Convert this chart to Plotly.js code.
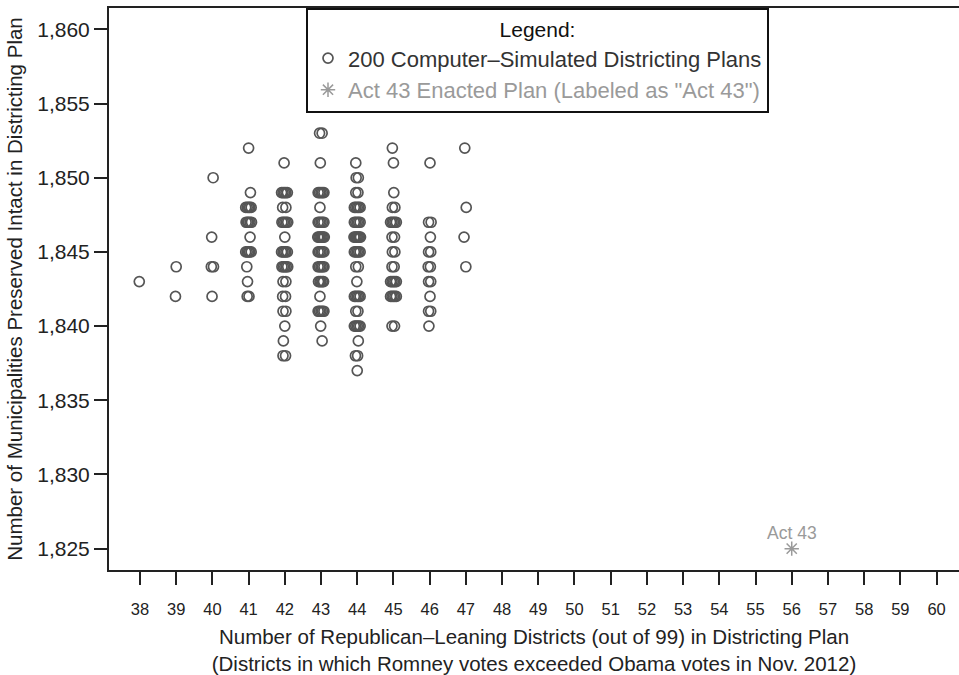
<!DOCTYPE html>
<html>
<head>
<meta charset="utf-8">
<script src="https://cdn.plot.ly/plotly-3.0.1.min.js"></script>
<style>html,body{margin:0;padding:0;background:#fff;overflow:hidden}#chart{width:959px;height:675px}</style>
</head>
<body>
<div id="chart"></div>
<script>
// Tick values
const xTicks = [38,39,40,41,42,43,44,45,46,47,48,49,50,51,52,53,54,55,56,57,58,59,60];
const yTicks = [1825,1830,1835,1840,1845,1850,1855,1860];

// 200 computer-simulated plans, per column (x = Republican-leaning districts, jittered as in the picture)
const col38X = [37.98];
const col38Y = [1843];
const col39X = [39.0, 38.98];
const col39Y = [1844, 1842];
const col40X = [40.02, 39.98, 39.97, 40.03, 39.99];
const col40Y = [1850, 1846, 1844, 1844, 1842];
const col41X = [41.0, 41.05, 40.92,40.96,41.0,41.03,41.07, 40.93,40.97,41.0,41.04,41.08, 41.04, 40.92,40.96,41.0,41.03,41.07, 40.95, 40.97, 40.96,41.01];
const col41Y = [1852, 1849, 1848,1848,1848,1848,1848, 1847,1847,1847,1847,1847, 1846, 1845,1845,1845,1845,1845, 1844, 1843, 1842,1842];
const col42X = [41.98, 41.91,41.95,41.99,42.03,42.07, 41.94,42.03, 41.92,41.96,42.0,42.04,42.08, 42.0, 41.91,41.95,41.99,42.03,42.07, 41.92,41.96,42.0,42.04,42.08, 41.95,42.03, 41.94,42.02, 41.95,42.03, 42.0, 41.96, 41.95,42.02];
const col42Y = [1851, 1849,1849,1849,1849,1849, 1848,1848, 1847,1847,1847,1847,1847, 1846, 1845,1845,1845,1845,1845, 1844,1844,1844,1844,1844, 1843,1843, 1842,1842, 1841,1841, 1840, 1839, 1838,1838];
const col43X = [42.96,43.03, 42.98, 42.92,42.96,43.0,43.04,43.08, 42.97, 42.92,42.96,43.0,43.04,43.08, 42.91,42.94,42.97,43.0,43.03,43.06,43.09, 42.92,42.96,43.0,43.04,43.08, 42.92,42.96,43.0,43.04,43.08, 42.93,42.97,43.0,43.04,43.07, 42.97, 42.92,42.96,43.0,43.04,43.08, 42.99, 43.03];
const col43Y = [1853,1853, 1851, 1849,1849,1849,1849,1849, 1848, 1847,1847,1847,1847,1847, 1846,1846,1846,1846,1846,1846,1846, 1845,1845,1845,1845,1845, 1844,1844,1844,1844,1844, 1843,1843,1843,1843,1843, 1842, 1841,1841,1841,1841,1841, 1840, 1839];
const col44X = [43.96, 43.97,44.03, 43.96,44.02, 43.92,43.96,44.0,44.04,44.08, 43.92,43.96,44.0,44.04,44.08, 43.91,43.94,43.97,44.0,44.03,44.06,44.09, 43.92,43.96,44.0,44.04,44.08, 43.96,44.03, 43.99, 43.92,43.96,44.0,44.04,44.08, 43.96,44.02, 43.92,43.96,44.0,44.04,44.08, 44.03, 43.95,44.01, 44.0];
const col44Y = [1851, 1850,1850, 1849,1849, 1848,1848,1848,1848,1848, 1847,1847,1847,1847,1847, 1846,1846,1846,1846,1846,1846,1846, 1845,1845,1845,1845,1845, 1844,1844, 1843, 1842,1842,1842,1842,1842, 1841,1841, 1840,1840,1840,1840,1840, 1839, 1838,1838, 1837];
const col45X = [44.97, 45.0, 45.01, 44.97,45.04, 44.92,44.96,45.0,45.04,45.08, 44.96,45.03, 44.97,45.04, 44.96,45.02, 44.92,44.96,45.0,45.04,45.08, 44.92,44.96,45.0,45.04,45.08, 44.96,45.03];
const col45Y = [1852, 1851, 1849, 1848,1848, 1847,1847,1847,1847,1847, 1846,1846, 1845,1845, 1844,1844, 1843,1843,1843,1843,1843, 1842,1842,1842,1842,1842, 1840,1840];
const col46X = [46.01, 45.97,46.04, 46.02, 45.97,46.03, 45.96,46.02, 45.97,46.03, 46.01, 45.97,46.03, 45.98];
const col46Y = [1851, 1847,1847, 1846, 1845,1845, 1844,1844, 1843,1843, 1842, 1841,1841, 1840];
const col47X = [46.97, 47.01, 46.95, 47.0];
const col47Y = [1852, 1848, 1846, 1844];

// Act 43 enacted plan
const act43X = [56];
const act43Y = [1825];
const act43Label = 'Act 43';

const simX = [].concat(col38X,col39X,col40X,col41X,col42X,col43X,col44X,col45X,col46X,col47X);
const simY = [].concat(col38Y,col39Y,col40Y,col41Y,col42Y,col43Y,col44Y,col45Y,col46Y,col47Y);

const FONT = 'Liberation Sans, Arial, Helvetica, sans-serif';
const AX = '#222222';

const traces = [
  {
    type: 'scatter', mode: 'markers', x: simX, y: simY,
    name: '200 Computer\u2013Simulated Districting Plans',
    marker: {symbol: 'circle-open', size: 10, color: '#555555', line: {width: 1.7, color: '#555555'}},
    hoverinfo: 'skip'
  },
  {
    type: 'scatter', mode: 'markers', x: act43X, y: act43Y,
    name: '<span style="color:#9a9a9a">Act 43 Enacted Plan (Labeled as "Act 43")</span>',
    marker: {symbol: 'asterisk-open', size: 12, color: '#9a9a9a', line: {width: 1.5, color: '#9a9a9a'}},
    hoverinfo: 'skip'
  }
];

const layout = {
  width: 959, height: 675,
  margin: {l: 109, r: 0, t: 8, b: 105, pad: 0},
  paper_bgcolor: '#ffffff', plot_bgcolor: '#ffffff',
  font: {family: FONT, color: AX},
  showlegend: true,
  legend: {
    x: (306-109)/850, y: 1, xanchor: 'left', yanchor: 'top',
    bgcolor: '#ffffff', bordercolor: '#111111', borderwidth: 2,
    font: {family: FONT, size: 22, color: '#333333'},
    title: {text: 'Legend:', side: 'top center', font: {family: FONT, size: 21, color: '#111111'}},
    tracegroupgap: 0
  },
  xaxis: {
    range: [37.144, 60.62], tickvals: xTicks, ticktext: xTicks.map(String),
    ticks: 'outside', ticklen: 13, tickwidth: 2, tickcolor: AX,
    showline: true, linewidth: 2, linecolor: AX, mirror: true,
    showgrid: false, zeroline: false,
    tickfont: {family: FONT, size: 16.5, color: AX}, ticklabelstandoff: 10,
    title: {text: 'Number of Republican\u2013Leaning Districts (out of 99) in Districting Plan<br>(Districts in which Romney votes exceeded Obama votes in Nov. 2012)',
            font: {family: FONT, size: 20.5, color: AX}, standoff: 16}
  },
  yaxis: {
    range: [1823.56, 1861.44], tickvals: yTicks, tickformat: ',d',
    ticks: 'outside', ticklen: 13, tickwidth: 2, tickcolor: AX,
    showline: true, linewidth: 2, linecolor: AX,
    showgrid: false, zeroline: false,
    tickfont: {family: FONT, size: 21, color: AX},
    title: {text: 'Number of Municipalities Preserved Intact in Districting Plan',
            font: {family: FONT, size: 20.5, color: AX}, standoff: 9}
  },
  annotations: [{
    x: act43X[0], y: act43Y[0], xref: 'x', yref: 'y', text: act43Label,
    showarrow: false, yshift: 16, font: {family: FONT, size: 17.5, color: '#9a9a9a'}
  }]
};

Plotly.newPlot('chart', traces, layout, {displayModeBar: false, staticPlot: true});
</script>
</body>
</html>
